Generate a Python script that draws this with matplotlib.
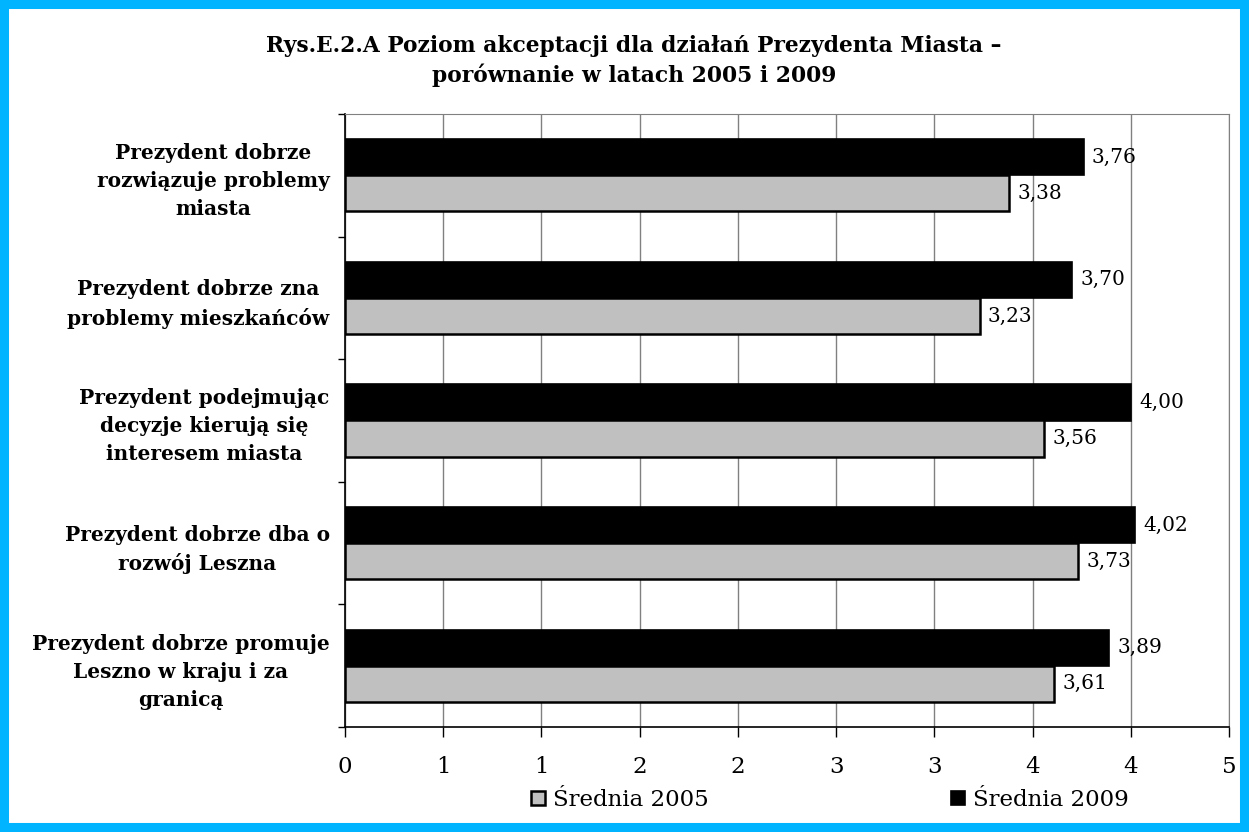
import matplotlib
matplotlib.use("Agg")
import matplotlib.pyplot as plt
from matplotlib.patches import Rectangle

plt.rcParams["font.family"] = "DejaVu Serif"

categories = [
    "Prezydent dobrze\nrozwiązuje problemy\nmiasta",
    "Prezydent dobrze zna\nproblemy mieszkańców",
    "Prezydent podejmując\ndecyzje kierują się\ninteresem miasta",
    "Prezydent dobrze dba o\nrozwój Leszna",
    "Prezydent dobrze promuje\nLeszno w kraju i za\ngranicą",
]
avg_2009 = [3.76, 3.70, 4.00, 4.02, 3.89]
avg_2005 = [3.38, 3.23, 3.56, 3.73, 3.61]
xticks = [0, 0.5, 1.0, 1.5, 2.0, 2.5, 3.0, 3.5, 4.0, 4.5]
xtick_labels = ["0", "1", "1", "2", "2", "3", "3", "4", "4", "5"]
title = ("Rys.E.2.A Poziom akceptacji dla działań Prezydenta Miasta –\n"
         "porównanie w latach 2005 i 2009")

CYAN, GREY, GRID = "#00B4FF", "#C0C0C0", "#808080"

fig = plt.figure(figsize=(12.49, 8.32), dpi=100)
fig.patch.set_facecolor("white")
# cyan frame around the whole picture
fig.patches.append(Rectangle((0, 0), 1, 1, transform=fig.transFigure, fill=False,
                             edgecolor=CYAN, linewidth=13, zorder=10))

ax = fig.add_axes([345 / 1249, 1 - 727 / 832, 884 / 1249, 613 / 832])

pos = list(range(len(categories)))
h = 0.294
b09 = ax.barh([p - h / 2 for p in pos], avg_2009, height=h, color="black",
              edgecolor="black", linewidth=1.2, label="Średnia 2009", zorder=3)
b05 = ax.barh([p + h / 2 for p in pos], avg_2005, height=h, color=GREY,
              edgecolor="black", linewidth=1.8, label="Średnia 2005", zorder=3)

for bars, vals in ((b09, avg_2009), (b05, avg_2005)):
    for rect, v in zip(bars, vals):
        ax.annotate(f"{v:.2f}".replace(".", ","),
                    (rect.get_width(), rect.get_y() + rect.get_height() / 2),
                    xytext=(6, 0), textcoords="offset points",
                    ha="left", va="center", fontsize=14.5, zorder=4)

ax.set_xlim(0, 4.5)
ax.set_ylim(len(categories) - 0.5, -0.5)
ax.set_xticks(xticks)
ax.set_xticklabels(xtick_labels, fontsize=16.5)
ax.tick_params(axis="x", length=7, width=1, pad=14, color="black")
ax.xaxis.grid(True, color=GRID, linewidth=1, zorder=0)

ax.set_yticks([p - 0.5 for p in pos] + [len(categories) - 0.5])
ax.set_yticklabels([])
ax.set_yticks(pos, minor=True)
ax.set_yticklabels(categories, minor=True, fontsize=14.5, fontweight="bold",
                   multialignment="center", linespacing=1.5)
ax.tick_params(axis="y", which="major", length=5, width=1, direction="out")
ax.tick_params(axis="y", which="minor", length=0, pad=11)

for side in ("top", "right"):
    ax.spines[side].set_color(GRID)
for side in ("left", "bottom"):
    ax.spines[side].set_color("black")
    ax.spines[side].set_linewidth(1.2)

fig.text(634 / 1249, 1 - 61 / 832, title, ha="center", va="center",
         fontsize=15.7, fontweight="bold", linespacing=1.3)

handles, labels = ax.get_legend_handles_labels()
fig.legend(handles[::-1], labels[::-1], loc="center", ncol=2, frameon=False,
           bbox_to_anchor=(830 / 1249, 1 - 800 / 832), fontsize=16.5,
           handlelength=0.6, handleheight=0.6, handletextpad=0.35,
           columnspacing=10.6)

fig.savefig("out.png", dpi=100, facecolor="white")
